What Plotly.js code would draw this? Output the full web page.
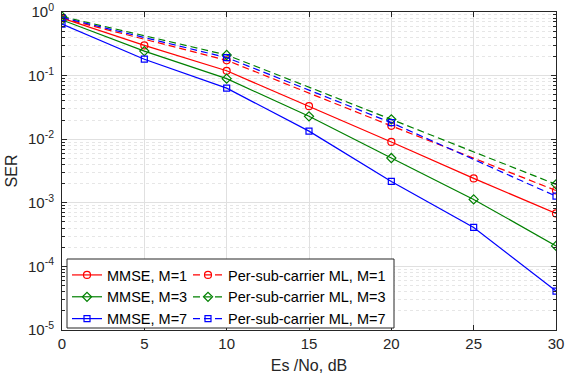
<!DOCTYPE html>
<html>
<head>
<meta charset="utf-8">
<script src="https://cdn.plot.ly/plotly-3.0.1.min.js"></script>
<style>html,body{margin:0;padding:0;background:#fff;}#chart{width:579px;height:377px;}</style>
</head>
<body>
<div id="chart"></div>
<script>
// ---- data ----
var snrFull = [0, 5, 10, 15, 20, 25, 30];
var snrCoarse = [0, 10, 20, 30];
var mmseM1 = [0.80, 0.298, 0.119, 0.033, 0.00905, 0.00242, 0.00068];
var mmseM3 = [0.75, 0.243, 0.0896, 0.0229, 0.00506, 0.00113, 0.00021];
var mmseM7 = [0.645, 0.181, 0.0635, 0.0134, 0.00217, 0.00041, 0.000041];
var mlM1 = [0.80, 0.174, 0.0162, 0.00156];
var mlM3 = [0.85, 0.211, 0.0205, 0.00195];
var mlM7 = [0.82, 0.192, 0.0182, 0.00127];
var seriesNames = ['MMSE, M=1', 'Per-sub-carrier ML, M=1', 'MMSE, M=3', 'Per-sub-carrier ML, M=3', 'MMSE, M=7', 'Per-sub-carrier ML, M=7'];
var xTickVals = [0, 5, 10, 15, 20, 25, 30];
var yTickVals = [1e-5, 1e-4, 1e-3, 1e-2, 1e-1, 1];
var yTickText = ['10<sup>-5</sup>', '10<sup>-4</sup>', '10<sup>-3</sup>', '10<sup>-2</sup>', '10<sup>-1</sup>', '10<sup>0</sup>'];

var RED = '#ff0000', GREEN = '#008000', BLUE = '#0000ff';
var FONT = 'Liberation Sans, Arial, sans-serif';

var minorVals = [];
for (var d = -5; d < 0; d++) { for (var k = 2; k <= 9; k++) { minorVals.push(k * Math.pow(10, d)); } }

function solid(name, x, y, color, sym, size) {
  return {x: x, y: y, name: name, type: 'scatter', mode: 'lines+markers', legend: 'legend',
    line: {color: color, width: 1.2}, marker: {symbol: sym, size: size, color: color, line: {color: color, width: 1.2}}};
}
function dashed(name, x, y, color, sym, size) {
  return {x: x, y: y, name: name, type: 'scatter', mode: 'lines+markers', legend: 'legend2',
    line: {color: color, width: 1.2, dash: '7px,4px'}, marker: {symbol: sym, size: size, color: color, line: {color: color, width: 1.2}}};
}

var traces = [
  solid(seriesNames[0], snrFull, mmseM1, RED, 'circle-open', 7),
  solid(seriesNames[2], snrFull, mmseM3, GREEN, 'diamond-open', 7),
  solid(seriesNames[4], snrFull, mmseM7, BLUE, 'square-open', 6),
  dashed(seriesNames[1], snrCoarse, mlM1, RED, 'circle-open', 7),
  dashed(seriesNames[3], snrCoarse, mlM3, GREEN, 'diamond-open', 7),
  dashed(seriesNames[5], snrCoarse, mlM7, BLUE, 'square-open', 6)
];

var W = 579, H = 377, L = 62, R = 23, T = 12, B = 47;
var pw = W - L - R, ph = H - T - B;
function px(xp) { return (xp - L) / pw; }
function py(yp) { return (H - B - yp) / ph; }

var legFont = {family: FONT, size: 14.5, color: '#000'};
var layout = {
  width: W, height: H,
  margin: {l: L, r: R, t: T, b: B},
  paper_bgcolor: '#fff', plot_bgcolor: '#fff',
  font: {family: FONT, color: '#262626'},
  xaxis: {
    range: [0, 30], tickmode: 'array', tickvals: xTickVals,
    ticks: 'inside', ticklen: 5, tickcolor: '#262626', mirror: 'ticks',
    showline: true, linecolor: '#262626', linewidth: 1,
    showgrid: true, gridcolor: '#e0e0e0', gridwidth: 1, zeroline: false,
    tickfont: {family: FONT, size: 15, color: '#262626'},
    ticklabeloverflow: 'allow',
    title: {text: 'Es /No, dB', font: {family: FONT, size: 16, color: '#262626'}, standoff: 8}
  },
  yaxis: {
    type: 'log', range: [-5, 0], tickmode: 'array', tickvals: yTickVals, ticktext: yTickText,
    ticks: 'inside', ticklen: 5, tickcolor: '#262626', mirror: 'ticks',
    showline: true, linecolor: '#262626', linewidth: 1,
    showgrid: true, gridcolor: '#e0e0e0', gridwidth: 1, zeroline: false,
    tickfont: {family: FONT, size: 15, color: '#262626'},
    ticklabelstandoff: 4, ticklabeloverflow: 'allow',
    minor: {tickmode: 'array', tickvals: minorVals, ticks: 'inside', ticklen: 3, tickcolor: '#262626',
      showgrid: true, gridcolor: '#e6e6e6', gridwidth: 1, griddash: 'dot'},
    title: {text: 'SER', font: {family: FONT, size: 16, color: '#262626'}, standoff: 6}
  },
  showlegend: true,
  legend: {x: px(67), y: py(259), xanchor: 'left', yanchor: 'top', orientation: 'v',
    bgcolor: 'rgba(0,0,0,0)', borderwidth: 0, font: legFont, tracegroupgap: 0, itemwidth: 30},
  legend2: {x: px(188), y: py(259), xanchor: 'left', yanchor: 'top', orientation: 'v',
    bgcolor: 'rgba(0,0,0,0)', borderwidth: 0, font: legFont, tracegroupgap: 0, itemwidth: 30},
  shapes: [{type: 'rect', xref: 'paper', yref: 'paper', x0: px(67), x1: px(394), y0: py(328), y1: py(259),
    line: {color: '#262626', width: 1}, fillcolor: '#fff', layer: 'above'}]
};

Plotly.newPlot('chart', traces, layout, {displayModeBar: false, staticPlot: true});
</script>
</body>
</html>
